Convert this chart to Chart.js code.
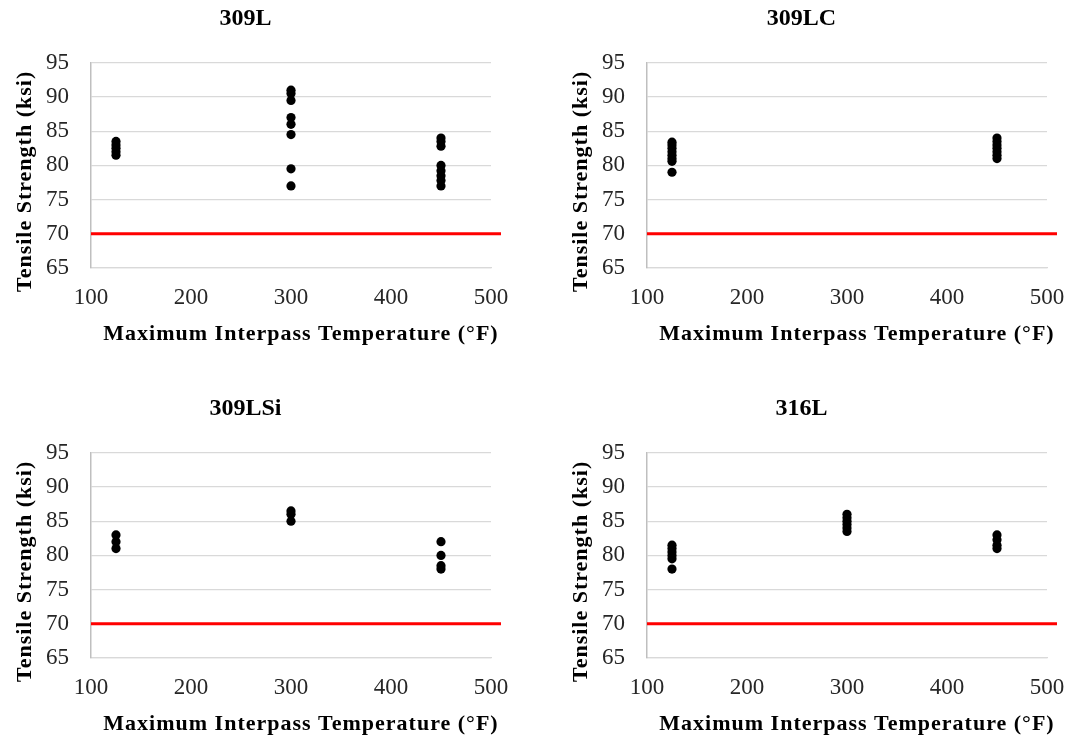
<!DOCTYPE html>
<html lang="en">
<head>
<meta charset="utf-8">
<title>Tensile Strength vs Maximum Interpass Temperature</title>
<script src="https://cdn.jsdelivr.net/npm/chart.js@4.4.1/dist/chart.umd.min.js"></script>
<style>
  html, body { margin: 0; padding: 0; background: #fff; }
  body { width: 1075px; height: 738px; position: relative; overflow: hidden; }
  .panneau { position: absolute; width: 512px; height: 348px; }
  #p-309L { left: 0; top: 0; }
  #p-309LC { left: 556px; top: 0; }
  #p-309LSi { left: 0; top: 390px; }
  #p-316L { left: 556px; top: 390px; }
</style>
</head>
<body>
<div class="panneau" id="p-309L"><canvas id="chart-309L" width="512" height="348"></canvas></div>
<div class="panneau" id="p-309LC"><canvas id="chart-309LC" width="512" height="348"></canvas></div>
<div class="panneau" id="p-309LSi"><canvas id="chart-309LSi" width="512" height="348"></canvas></div>
<div class="panneau" id="p-316L"><canvas id="chart-316L" width="512" height="348"></canvas></div>

<script>
// Données (température en °F, résistance en ksi)
const temp309L = [125, 125, 125, 125, 125, 300, 300, 300, 300, 300, 300, 300, 300, 450, 450, 450, 450, 450, 450, 450, 450];
const rm309L = [83.5, 83, 82.5, 82, 81.5, 91, 90.5, 89.5, 87, 86, 84.5, 79.5, 77, 84, 83.5, 82.8, 80, 79.2, 78.5, 77.8, 77];

const temp309LC = [125, 125, 125, 125, 125, 125, 125, 125, 450, 450, 450, 450, 450, 450, 450];
const rm309LC = [83.4, 83, 82.5, 82, 81.5, 81, 80.6, 79, 84, 83.5, 83, 82.5, 82, 81.5, 81];

const temp309LSi = [125, 125, 125, 300, 300, 300, 450, 450, 450, 450];
const rm309LSi = [83, 82, 81, 86.5, 86, 85, 82, 80, 78.5, 78];

const temp316L = [125, 125, 125, 125, 125, 125, 300, 300, 300, 300, 300, 300, 450, 450, 450, 450];
const rm316L = [81.5, 81, 80.5, 80, 79.5, 78, 86, 85.5, 85, 84.5, 84, 83.5, 83, 82.3, 81.5, 81];

// Limite minimale (ligne rouge)
const limiteX = [100, 510];
const limiteY = [70, 70];

const ticksX = [100, 200, 300, 400, 500];
const ticksY = [65, 70, 75, 80, 85, 90, 95];

const TITRE_X = 'Maximum Interpass Temperature (°F)';
const TITRE_Y = 'Tensile Strength (ksi)';
const POLICE = '"Liberation Serif", "Times New Roman", serif';

function versPoints(xs, ys) {
  return xs.map((x, i) => ({ x, y: ys[i] }));
}

// Titres des axes dessinés à la main (espacement des lettres comme dans Excel)
const titresAxes = {
  id: 'titresAxes',
  afterDraw(chart, args, opts) {
    const { ctx, chartArea } = chart;
    const cx = (chartArea.left + chartArea.right) / 2;
    const cy = (chartArea.top + chartArea.bottom) / 2;
    ctx.save();
    ctx.font = `bold 22px ${POLICE}`;
    ctx.fillStyle = '#000';
    ctx.letterSpacing = '1px';
    ctx.textAlign = 'center';
    ctx.textBaseline = 'middle';
    ctx.fillText(opts.x, cx + 10, chartArea.bottom + 66);
    ctx.translate(25, cy + 16);
    ctx.rotate(-Math.PI / 2);
    ctx.fillText(opts.y, 0, 0);
    ctx.restore();
  },
};

function dessinerGraphique(idCanvas, titre, temperatures, resistances) {
  const ctx = document.getElementById(idCanvas).getContext('2d');

  return new Chart(ctx, {
    type: 'scatter',
    data: {
      datasets: [
        {
          type: 'line',
          label: 'Minimum',
          data: versPoints(limiteX, limiteY),
          borderColor: '#ff0000',
          borderWidth: 3,
          pointRadius: 0,
          clip: false,
          order: 2,
        },
        {
          label: titre,
          data: versPoints(temperatures, resistances),
          backgroundColor: '#000',
          borderWidth: 0,
          pointRadius: 4.6,
          order: 1,
        },
      ],
    },
    options: {
      responsive: false,
      animation: false,
      layout: { padding: { left: 0, right: 21, top: 0, bottom: 0 } },
      plugins: {
        legend: { display: false },
        tooltip: { enabled: false },
        title: {
          display: true,
          text: titre,
          color: '#000',
          font: { family: POLICE, size: 24, weight: 'bold' },
          padding: { top: 4, bottom: 30 },
        },
        titresAxes: { x: TITRE_X, y: TITRE_Y },
      },
      scales: {
        x: {
          type: 'linear',
          min: ticksX[0],
          max: ticksX[ticksX.length - 1],
          afterBuildTicks: (axe) => { axe.ticks = ticksX.map((v) => ({ value: v })); },
          afterFit: (axe) => {
            axe.height = 80;
            axe.paddingLeft = 0;
            axe.paddingRight = 0;
          },
          grid: { display: false, drawTicks: false },
          border: { display: true, color: '#d9d9d9', width: 1.3 },
          ticks: { color: '#262626', padding: 16, font: { family: POLICE, size: 23 } },
        },
        y: {
          type: 'linear',
          min: ticksY[0],
          max: ticksY[ticksY.length - 1],
          afterBuildTicks: (axe) => { axe.ticks = ticksY.map((v) => ({ value: v })); },
          afterFit: (axe) => { axe.width = 91; },
          grid: { color: '#d9d9d9', lineWidth: 1.3, drawTicks: false },
          border: { display: true, color: '#bfbfbf', width: 1.5 },
          ticks: { color: '#262626', padding: 22, font: { family: POLICE, size: 23 } },
        },
      },
    },
    plugins: [titresAxes],
  });
}

dessinerGraphique('chart-309L', '309L', temp309L, rm309L);
dessinerGraphique('chart-309LC', '309LC', temp309LC, rm309LC);
dessinerGraphique('chart-309LSi', '309LSi', temp309LSi, rm309LSi);
dessinerGraphique('chart-316L', '316L', temp316L, rm316L);
</script>
</body>
</html>
